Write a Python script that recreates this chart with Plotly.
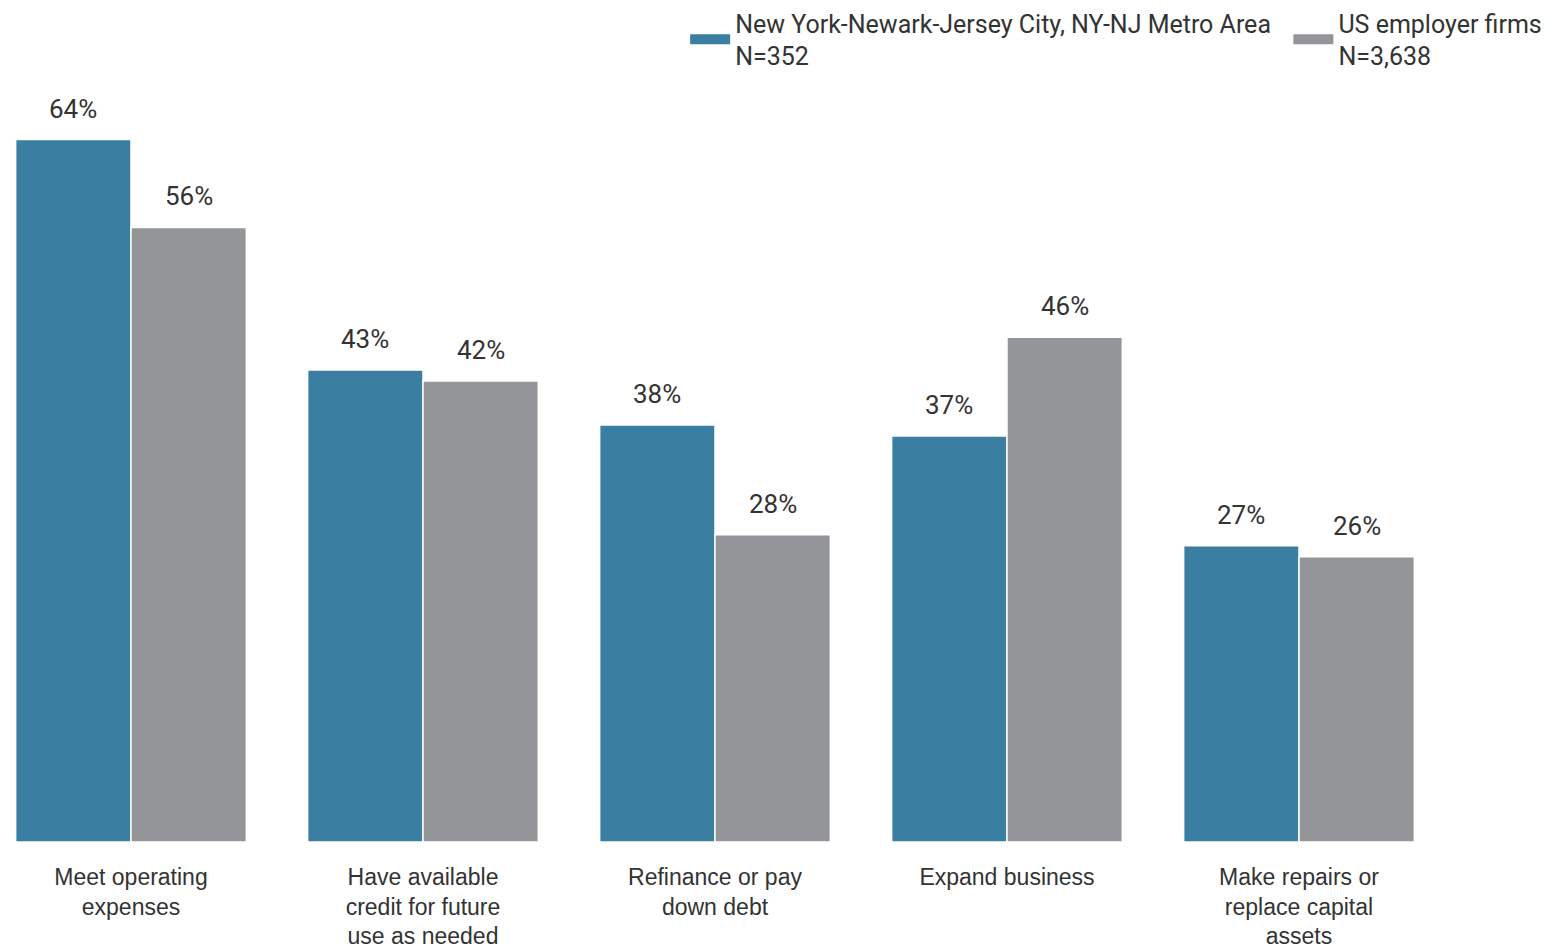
import plotly.graph_objects as go

categories = ["Meet operating<br>expenses", "Have available<br>credit for future<br>use as needed",
              "Refinance or pay<br>down debt", "Expand business",
              "Make repairs or<br>replace capital<br>assets"]
ny_values = [64, 43, 38, 37, 27]
us_values = [56, 42, 28, 46, 26]
ny_name = "New York-Newark-Jersey City, NY-NJ Metro Area\u00a0\u00a0<br>N=352"
us_name = "US employer firms<br>N=3,638"

TEAL = "#3a7ea1"
GRAY = "#939598"
TXT = "#333333"
FONT = "Roboto"

xs = list(range(len(categories)))
fig = go.Figure()
fig.add_trace(go.Bar(x=xs, y=ny_values, name=ny_name, showlegend=False,
                     marker=dict(color=TEAL, line=dict(color="white", width=1.5))))
fig.add_trace(go.Bar(x=xs, y=us_values, name=us_name, showlegend=False,
                     marker=dict(color=GRAY, line=dict(color="white", width=1.5))))
# legend-only entries with wide rectangular swatches
for nm, col in ((ny_name, TEAL), (us_name, GRAY)):
    fig.add_trace(go.Scatter(x=[None], y=[None], mode="lines", name=nm,
                             line=dict(color=col, width=12)))

for vals, shift in ((ny_values, -58), (us_values, 58)):
    for i, v in enumerate(vals):
        fig.add_annotation(x=i, y=v, text=f"{v}%", showarrow=False, xshift=shift,
                           yanchor="bottom", yshift=14,
                           font=dict(family=FONT, size=26, color=TXT))

fig.update_layout(
    width=1550, height=947,
    margin=dict(l=0, r=0, t=80, b=113),
    paper_bgcolor="white", plot_bgcolor="white",
    barmode="group", bargap=0.21, bargroupgap=0,
    font=dict(family=FONT, color=TXT, size=22),
    legend=dict(orientation="h", x=0.993, xanchor="right", y=0.9258, yanchor="bottom",
                xref="container", yref="container",
                font=dict(family=FONT, size=25, color=TXT), traceorder="normal",
                itemwidth=40, tracegroupgap=0),
    xaxis=dict(tickmode="array", tickvals=xs, ticktext=categories, range=[-0.4212, 4.887],
               showgrid=False, zeroline=False, showline=False, automargin=False,
               ticks="outside", ticklen=14, tickcolor="white", tickangle=0,
               tickfont=dict(family="Liberation Sans", size=23, color=TXT)),
    yaxis=dict(range=[0, 68.7], visible=False, showgrid=False, zeroline=False),
)

fig.write_html("out.html")
